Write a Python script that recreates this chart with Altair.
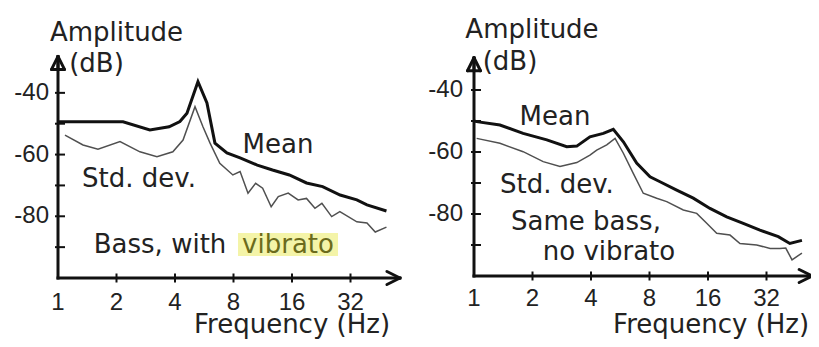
import altair as alt
import pandas as pd

# ---------------- data ----------------
# Left panel: bass with vibrato
left_mean_f = [1.0, 1.02, 2.16, 2.97, 3.73, 4.24, 4.61, 5.25, 5.84, 6.42, 7.4, 8.65, 10.6,
               12.7, 15.5, 19.0, 23.0, 28.3, 34.5, 38.9, 49.0]
left_mean_db = [-49.5, -49.4, -49.4, -52.0, -51.0, -49.3, -46.6, -36.4, -43.3, -56.3, -59.5,
                -61.1, -63.4, -65.0, -66.6, -69.2, -70.4, -73.1, -74.7, -76.3, -78.3]
left_std_f = [1.086, 1.345, 1.606, 2.085, 2.64, 3.23, 3.9, 4.4, 5.07, 5.57, 6.06, 6.8, 7.94,
              8.65, 9.5, 10.4, 11.3, 12.5, 13.6, 15.3, 17.2, 19.0, 21.0, 22.8, 25.6, 28.2,
              34.5, 38.9, 42.9, 49.0]
left_std_db = [-53.7, -56.9, -58.3, -55.8, -59.1, -60.7, -59.1, -55.3, -44.5, -51.0, -56.3,
               -62.8, -66.6, -65.5, -72.5, -69.3, -70.9, -76.9, -73.6, -72.5, -74.7, -74.2,
               -77.4, -75.8, -80.1, -78.5, -81.8, -82.2, -85.1, -83.5]

# Right panel: same bass, no vibrato
right_mean_f = [1.0, 1.032, 1.36, 1.79, 2.37, 3.0, 3.38, 3.95, 4.63, 5.21, 5.87, 6.87, 8.05,
                9.06, 11.04, 13.44, 16.38, 19.97, 24.3, 29.6, 36.8, 42.2, 48.7]
right_mean_db = [-50.0, -50.2, -51.3, -54.0, -56.1, -58.3, -58.1, -55.1, -54.0, -52.7, -56.7,
                 -63.6, -68.0, -69.6, -72.3, -74.9, -78.2, -80.9, -83.0, -85.2, -87.3, -89.5,
                 -88.5]
right_std_f = [1.032, 1.36, 1.79, 2.27, 2.77, 3.38, 3.95, 4.28, 4.82, 5.32, 5.87, 6.6, 7.43,
               8.71, 9.81, 11.94, 14.0, 15.76, 17.74, 20.77, 23.37, 28.5, 33.4, 37.5, 40.2,
               43.3, 48.7]
right_std_db = [-55.6, -57.2, -59.9, -63.1, -64.7, -63.4, -61.0, -59.4, -57.7, -55.6, -60.4,
                -66.9, -73.3, -74.9, -76.0, -78.7, -79.8, -83.0, -86.2, -86.8, -89.5, -90.0,
                -91.1, -91.1, -91.0, -94.8, -92.6]

# Axis ticks and labels
y_tick_db = [-90, -80, -70, -60, -50, -40]
y_label_db = [-80, -60, -40]
y_label_text = ["-80", "-60", "-40"]
x_tick_f = [2, 4, 8, 16, 32]
x_label_f = [1, 2, 4, 8, 16, 32]
x_label_text = ["1", "2", "4", "8", "16", "32"]

# Annotations (anchored in data units: Hz, dB)
left_notes = ["Amplitude", "(dB)", "Mean", "Std. dev.", "Bass, with", "Frequency (Hz)"]
left_notes_f = [2.0, 1.578, 13.56, 2.61, 3.35, 16.0]
left_notes_db = [-23.2, -33.2, -59.5, -70.5, -91.9, -117.8]
left_hl_text = ["vibrato"]
left_hl_f = [15.26]
left_hl_db = [-91.9]
left_hl_box_f = [8.44, 27.6]
left_hl_box_db = [-85.4, -92.9]

right_notes = ["Amplitude", "(dB)", "Mean", "Std. dev.", "Same bass,", "no vibrato",
               "Frequency (Hz)"]
right_notes_f = [1.988, 1.532, 2.61, 2.67, 3.77, 4.95, 16.6]
right_notes_db = [-23.2, -33.5, -51.3, -73.2, -85.2, -94.8, -118.4]

# axis extents (Hz / dB at the arrow tips)
left_axis_end = [57.5, -28.2]
right_axis_end = [55.0, -29.6]

# ---------------- helpers ----------------
FONT = "DejaVu Sans"
TICKFONT = "Liberation Sans"
INK = "#222222"
PX_PER_OCT = 58.5
PX_PER_DB = 3.1


def xsc(p):
    return alt.Scale(type="log", base=2, domain=[1, 64], nice=False,
                     range=[0, 351] if p == "L" else [416, 767])


def ysc(p):
    return alt.Scale(domain=[-100, -30], nice=False, zero=False,
                     range=[216, 0] if p == "L" else [214, -3])


def X(field, p):
    return alt.X(f"{field}:Q", scale=xsc(p), axis=None)


def Y(field, p):
    return alt.Y(f"{field}:Q", scale=ysc(p), axis=None)


def arrow_segments(axis_end):
    """Arrowhead strokes at the two axis ends, expressed in data units."""
    half = 2 ** (6.5 / PX_PER_OCT)      # 6.5 px sideways on the log axis
    back = 2 ** (13 / PX_PER_OCT)       # 13 px back on the log axis
    fx, ty = axis_end
    dy_len = 13 / PX_PER_DB
    dy_half = 6.5 / PX_PER_DB
    rows = [
        # y-axis arrow (closed triangle)
        (1.0, ty, 1.0 / half, ty - dy_len),
        (1.0, ty, half, ty - dy_len),
        (1.0 / half, ty - dy_len, half, ty - dy_len),
        (1.0, ty, 1.0, ty - dy_len),
        # x-axis arrow (chevron)
        (fx, -100.0, fx / back, -100.0 + dy_half),
        (fx, -100.0, fx / back, -100.0 - dy_half),
    ]
    return pd.DataFrame(rows, columns=["fa", "da", "fb", "dbb"])


def panel(p, mean_f, mean_db, std_f, std_db, notes, notes_f, notes_db, axis_end,
          ylab_dx, xlab_dy):
    layers = []
    mean_df = pd.DataFrame({"f": mean_f, "db": mean_db})
    std_df = pd.DataFrame({"f": std_f, "db": std_db})
    layers.append(alt.Chart(std_df).mark_line(color="#505050", strokeWidth=1.5)
                  .encode(x=X("f", p), y=Y("db", p)))
    layers.append(alt.Chart(mean_df).mark_line(color="#111111", strokeWidth=3)
                  .encode(x=X("f", p), y=Y("db", p)))

    ax = pd.DataFrame({"f0": [1.0], "f1": [axis_end[0]], "d0": [-100.0], "d1": [axis_end[1]]})
    layers.append(alt.Chart(ax).mark_rule(color="#111111", strokeWidth=3, strokeCap="square")
                  .encode(x=X("f0", p), y=Y("d0", p), y2="d1:Q"))
    layers.append(alt.Chart(ax).mark_rule(color="#111111", strokeWidth=3, strokeCap="square")
                  .encode(x=X("f0", p), x2="f1:Q", y=Y("d0", p)))
    # arrowheads
    layers.append(alt.Chart(arrow_segments(axis_end))
                  .mark_rule(color="#111111", strokeWidth=3, strokeCap="round")
                  .encode(x=X("fa", p), x2="fb:Q", y=Y("da", p), y2="dbb:Q"))
    # ticks
    yt = pd.DataFrame({"f": [1.0] * len(y_tick_db), "db": y_tick_db})
    layers.append(alt.Chart(yt).mark_tick(orient="horizontal", size=10, thickness=2,
                                          color="#111111", xOffset=2, opacity=1)
                  .encode(x=X("f", p), y=Y("db", p)))
    xt = pd.DataFrame({"f": x_tick_f, "db": [-100.0] * len(x_tick_f)})
    layers.append(alt.Chart(xt).mark_tick(orient="vertical", size=9, thickness=2,
                                          color="#111111", opacity=1)
                  .encode(x=X("f", p), y=Y("db", p)))
    # tick labels
    yl = pd.DataFrame({"f": [1.0] * len(y_label_db), "db": y_label_db, "t": y_label_text})
    layers.append(alt.Chart(yl).mark_text(align="right", baseline="middle", dx=ylab_dx,
                                          font=TICKFONT, fontSize=24, color=INK)
                  .encode(x=X("f", p), y=Y("db", p), text="t:N"))
    xl = pd.DataFrame({"f": x_label_f, "db": [-100.0] * len(x_label_f), "t": x_label_text})
    layers.append(alt.Chart(xl).mark_text(align="center", baseline="alphabetic", dy=xlab_dy,
                                          font=TICKFONT, fontSize=24, color=INK)
                  .encode(x=X("f", p), y=Y("db", p), text="t:N"))
    # annotations
    nt = pd.DataFrame({"f": notes_f, "db": notes_db, "t": notes})
    layers.append(alt.Chart(nt).mark_text(align="center", baseline="alphabetic",
                                          font=FONT, fontSize=26, color=INK)
                  .encode(x=X("f", p), y=Y("db", p), text="t:N"))
    return layers


layers = panel("L", left_mean_f, left_mean_db, left_std_f, left_std_db,
               left_notes, left_notes_f, left_notes_db, left_axis_end, -9, 32)

hl_box = pd.DataFrame({"f0": [left_hl_box_f[0]], "f1": [left_hl_box_f[1]],
                       "d0": [left_hl_box_db[0]], "d1": [left_hl_box_db[1]]})
layers.append(alt.Chart(hl_box).mark_rect(color="#f4f4a8")
              .encode(x=X("f0", "L"), x2="f1:Q", y=Y("d0", "L"), y2="d1:Q"))
hl = pd.DataFrame({"f": left_hl_f, "db": left_hl_db, "t": left_hl_text})
layers.append(alt.Chart(hl).mark_text(align="center", baseline="alphabetic",
                                      font=FONT, fontSize=26, color="#6b6b1c")
              .encode(x=X("f", "L"), y=Y("db", "L"), text="t:N"))

layers += panel("R", right_mean_f, right_mean_db, right_std_f, right_std_db,
                right_notes, right_notes_f, right_notes_db, right_axis_end, -11, 30)

chart = (
    alt.layer(*layers)
    .resolve_scale(x="independent", y="independent")
    .properties(
        width=751,
        height=216,
        padding={"left": 50, "top": 54, "right": 2, "bottom": 61},
        autosize=alt.AutoSizeParams(type="none"),
        background="white",
    )
    .configure_view(stroke=None)
)

chart.save("out.html", embed_options={"renderer": "svg", "actions": False})
